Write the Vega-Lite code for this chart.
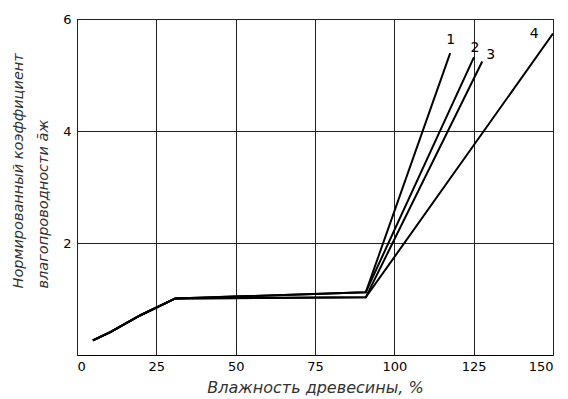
{
  "$schema": "https://vega.github.io/schema/vega-lite/v6.json",
  "width": 476,
  "height": 336,
  "autosize": {"type": "none"},
  "padding": {"left": 77, "top": 19, "right": 15, "bottom": 44},
  "background": "white",
  "config": {
    "view": {"stroke": "black", "strokeWidth": 1},
    "axis": {
      "labelFont": "DejaVu Sans",
      "labelFontSize": 13,
      "labelColor": "black",
      "titleFont": "DejaVu Sans",
      "titleFontSize": 14.5,
      "titleFontStyle": "italic",
      "titleFontWeight": "normal",
      "titleColor": "#333333",
      "gridColor": "#222222",
      "gridOpacity": 1,
      "gridWidth": 1,
      "domain": false,
      "ticks": false
    }
  },
  "resolve": {"axis": {"y": "independent"}},
  "datasets": {
    "curves": [
      {"series": "1", "x": 5, "y": 0.26},
      {"series": "1", "x": 10.5, "y": 0.41},
      {"series": "1", "x": 20, "y": 0.71},
      {"series": "1", "x": 31, "y": 1.01},
      {"series": "1", "x": 91, "y": 1.12},
      {"series": "1", "x": 117.6, "y": 5.39},
      {"series": "2", "x": 5, "y": 0.26},
      {"series": "2", "x": 10.5, "y": 0.41},
      {"series": "2", "x": 20, "y": 0.71},
      {"series": "2", "x": 31, "y": 1.01},
      {"series": "2", "x": 91, "y": 1.12},
      {"series": "2", "x": 125.1, "y": 5.32},
      {"series": "3", "x": 5, "y": 0.26},
      {"series": "3", "x": 10.5, "y": 0.41},
      {"series": "3", "x": 20, "y": 0.71},
      {"series": "3", "x": 31, "y": 1.01},
      {"series": "3", "x": 91, "y": 1.03},
      {"series": "3", "x": 127.7, "y": 5.24},
      {"series": "4", "x": 5, "y": 0.26},
      {"series": "4", "x": 10.5, "y": 0.41},
      {"series": "4", "x": 20, "y": 0.71},
      {"series": "4", "x": 31, "y": 1.01},
      {"series": "4", "x": 91, "y": 1.03},
      {"series": "4", "x": 150, "y": 5.74}
    ],
    "labels": [
      {"label": "1", "x": 117.8, "y": 5.62},
      {"label": "2", "x": 125.4, "y": 5.49},
      {"label": "3", "x": 130.4, "y": 5.36},
      {"label": "4", "x": 144.1, "y": 5.74}
    ]
  },
  "layer": [
    {
      "data": {"name": "curves"},
      "mark": {"type": "line", "color": "black", "strokeWidth": 2, "clip": true},
      "encoding": {
        "x": {
          "field": "x", "type": "quantitative",
          "scale": {"domain": [0, 150], "nice": false},
          "axis": {"values": [0, 25, 50, 75, 100, 125, 150], "format": "d", "labelPadding": 5, "title": "Влажность древесины, %", "titleFontSize": 16, "titlePadding": 6}
        },
        "y": {
          "field": "y", "type": "quantitative",
          "scale": {"domain": [0, 6], "nice": false},
          "axis": {
            "orient": "left",
            "values": [2, 4, 6],
            "format": "d",
            "labelPadding": 6,
            "title": "Нормированный коэффициент",
            "titleAlign": "left",
            "titleAngle": -90,
            "titleBaseline": "middle",
            "titleX": -59,
            "titleY": 269
          }
        },
        "detail": {"field": "series"}
      }
    },
    {
      "data": {"name": "labels"},
      "mark": {"type": "text", "font": "DejaVu Sans", "fontSize": 14, "color": "black"},
      "encoding": {
        "x": {"field": "x", "type": "quantitative"},
        "y": {
          "field": "y", "type": "quantitative",
          "scale": {"domain": [0, 6], "nice": false},
          "axis": {
            "orient": "left",
            "values": [2, 4, 6],
            "labels": false,
            "grid": false,
            "title": "влагопроводности  āж",
            "titleAlign": "left",
            "titleAngle": -90,
            "titleBaseline": "middle",
            "titleX": -34,
            "titleY": 269
          }
        },
        "text": {"field": "label"}
      }
    }
  ]
}
